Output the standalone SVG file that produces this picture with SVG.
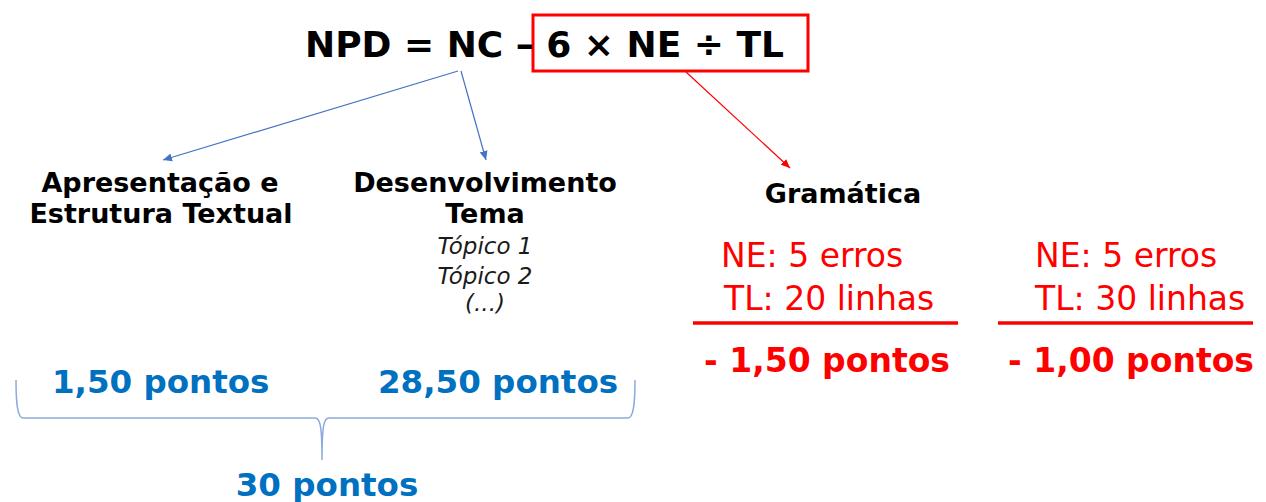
<svg xmlns="http://www.w3.org/2000/svg" width="1266" height="502" viewBox="0 0 1266 502">
<style>
.b{font-family:"DejaVu Sans","Verdana",sans-serif;font-weight:bold;fill:#000}
.lbl{font-size:27px;text-anchor:middle}
.it{font-family:"DejaVu Sans","Verdana",sans-serif;font-style:italic;font-size:23px;fill:#1a1a1a;text-anchor:middle}
.red{font-family:"DejaVu Sans","Verdana",sans-serif;font-size:33px;fill:#ff0000}
.redb{font-family:"DejaVu Sans","Verdana",sans-serif;font-weight:bold;font-size:33px;fill:#ff0000}
.blue{font-family:"DejaVu Sans","Verdana",sans-serif;font-weight:bold;font-size:32.5px;fill:#0070c0}
.ab{stroke:#4472c4;stroke-width:1.2;fill:none}
.ar{stroke:#ff0000;stroke-width:1.2;fill:none}
</style>
<defs>
<marker id="mb" markerUnits="userSpaceOnUse" markerWidth="10" markerHeight="10" refX="9" refY="5" orient="auto"><path d="M0,1 L9,5 L0,9 Z" fill="#4472c4"/></marker>
<marker id="mr" markerUnits="userSpaceOnUse" markerWidth="10" markerHeight="10" refX="9" refY="5" orient="auto"><path d="M0,1 L9,5 L0,9 Z" fill="#ff0000"/></marker>
</defs>
<rect width="1266" height="502" fill="#fff"/>
<g id="formula">
<rect x="533" y="15" width="275" height="56" fill="none" stroke="#ff0000" stroke-width="3"/>
<text class="b" x="305" y="57" font-size="36">NPD = NC – 6 × NE ÷ TL</text>
</g>
<g id="connectors">
<line class="ab" x1="458" y1="71" x2="163" y2="160" marker-end="url(#mb)"/>
<line class="ab" x1="461" y1="71" x2="486" y2="160" marker-end="url(#mb)"/>
<line class="ar" x1="686" y1="72" x2="790" y2="168" marker-end="url(#mr)"/>
</g>
<g id="apresentacao">
<text class="b lbl" x="160" y="192">Apresentação e</text>
<text class="b lbl" x="161" y="223">Estrutura Textual</text>
</g>
<g id="desenvolvimento">
<text class="b lbl" x="485" y="192">Desenvolvimento</text>
<text class="b lbl" x="485" y="223">Tema</text>
<text class="it" x="485" y="254">Tópico 1</text>
<text class="it" x="485" y="284">Tópico 2</text>
<text class="it" x="485" y="311">(...)</text>
</g>
<g id="gramatica">
<text class="b lbl" x="843" y="203">Gramática</text>
</g>
<g id="exemplo1">
<text class="red" x="721" y="267">NE: 5 erros</text>
<text class="red" x="724" y="310">TL: 20 linhas</text>
<line x1="693" y1="323" x2="958" y2="323" stroke="#ff0000" stroke-width="3.5"/>
<text class="redb" x="704" y="372">- 1,50 pontos</text>
</g>
<g id="exemplo2">
<text class="red" x="1035" y="267">NE: 5 erros</text>
<text class="red" x="1035" y="310">TL: 30 linhas</text>
<line x1="998" y1="323" x2="1253" y2="323" stroke="#ff0000" stroke-width="3.5"/>
<text class="redb" x="1008" y="372">- 1,00 pontos</text>
</g>
<g id="pontos">
<text class="blue" x="52" y="393">1,50 pontos</text>
<text class="blue" x="378" y="393">28,50 pontos</text>
<path d="M16,380 C16,400 17,418 23,418 L315,418 C320,418 322,425 322,460 C322,425 324,418 329,418 L628,418 C634,418 635,400 635,380" fill="none" stroke="#8eaadb" stroke-width="1.5"/>
<text class="blue" x="327" y="496" text-anchor="middle">30 pontos</text>
</g>
</svg>
